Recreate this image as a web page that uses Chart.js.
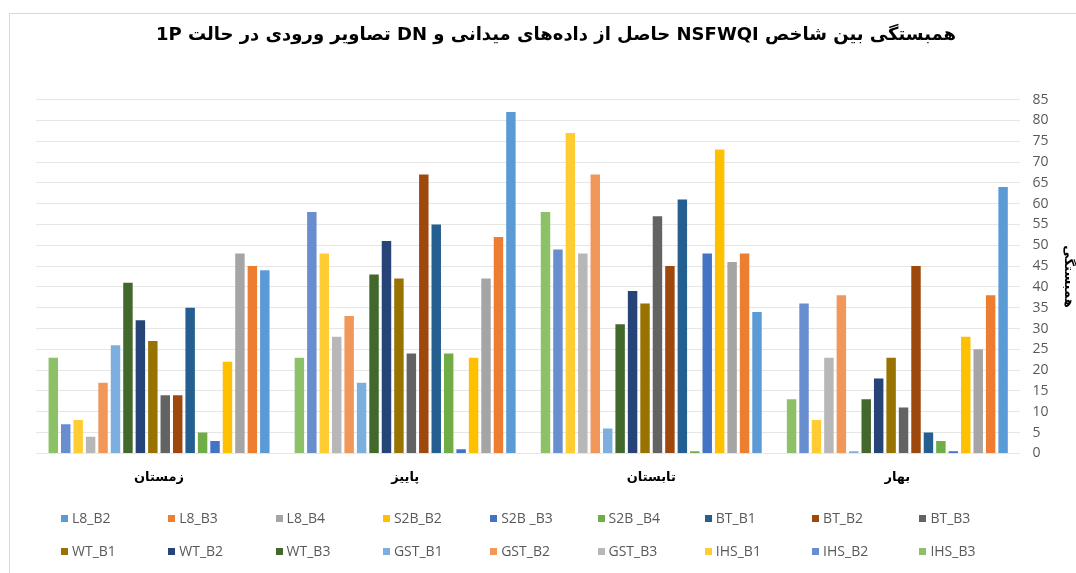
<!DOCTYPE html>
<html>
<head>
  <meta charset="UTF-8">
  <title>NSFWQI correlation chart</title>
  <script src="https://cdn.jsdelivr.net/npm/chart.js"></script>
  <style>
    html, body {
      margin: 0;
      padding: 0;
      background: #fff;
    }
    #wrap {
      position: relative;
      width: 1076px;
      height: 573px;
      overflow: hidden;
    }
    #frame {
      position: absolute;
      left: 9px;
      top: 13px;
      width: 1100px;
      height: 600px;
      border: 1px solid #d9d9d9;
    }
    canvas {
      position: absolute;
      left: 0;
      top: 0;
      direction: rtl;
    }
    .legend-item {
      position: absolute;
      font-family: "Open Sans", sans-serif;
      font-size: 14px;
      color: #595959;
      white-space: nowrap;
      line-height: 16px;
    }
    .legend-item span.box {
      display: inline-block;
      width: 7px;
      height: 7px;
      margin-right: 4px;
      vertical-align: 1px;
    }
  </style>
</head>
<body>
  <div id="wrap">
    <div id="frame"></div>
    <canvas id="chart" width="1076" height="573"></canvas>
    <div id="legend"></div>
  </div>

  <script>
    // Categories (seasons), x axis runs right to left
    const seasons = ["بهار", "تابستان", "پاییز", "زمستان"];

    const seriesNames = ["L8_B2", "L8_B3", "L8_B4", "S2B_B2", "S2B _B3", "S2B _B4", "BT_B1", "BT_B2", "BT_B3",
                         "WT_B1", "WT_B2", "WT_B3", "GST_B1", "GST_B2", "GST_B3", "IHS_B1", "IHS_B2", "IHS_B3"];

    const seriesColors = ["#5B9BD5", "#ED7D31", "#A5A5A5", "#FFC000", "#4472C4", "#70AD47", "#255E91", "#9E480E", "#636363",
                          "#997300", "#264478", "#43682B", "#7CAFDD", "#F1975A", "#B7B7B7", "#FFCD33", "#698ED0", "#8CC168"];

    // values per series: spring, summer, autumn, winter
    const L8_B2 = [64, 34, 82, 44];
    const L8_B3 = [38, 48, 52, 45];
    const L8_B4 = [25, 46, 42, 48];
    const S2B_B2 = [28, 73, 23, 22];
    const S2B_B3 = [0.5, 48, 1, 3];
    const S2B_B4 = [3, 0.5, 24, 5];
    const BT_B1 = [5, 61, 55, 35];
    const BT_B2 = [45, 45, 67, 14];
    const BT_B3 = [11, 57, 24, 14];
    const WT_B1 = [23, 36, 42, 27];
    const WT_B2 = [18, 39, 51, 32];
    const WT_B3 = [13, 31, 43, 41];
    const GST_B1 = [0.5, 6, 17, 26];
    const GST_B2 = [38, 67, 33, 17];
    const GST_B3 = [23, 48, 28, 4];
    const IHS_B1 = [8, 77, 48, 8];
    const IHS_B2 = [36, 49, 58, 7];
    const IHS_B3 = [13, 58, 23, 23];

    const seriesValues = [L8_B2, L8_B3, L8_B4, S2B_B2, S2B_B3, S2B_B4, BT_B1, BT_B2, BT_B3,
                          WT_B1, WT_B2, WT_B3, GST_B1, GST_B2, GST_B3, IHS_B1, IHS_B2, IHS_B3];

    const yTicks = [0, 5, 10, 15, 20, 25, 30, 35, 40, 45, 50, 55, 60, 65, 70, 75, 80, 85];

    const titleText = "همبستگی بین شاخص NSFWQI حاصل از داده‌های میدانی و DN تصاویر ورودی در حالت 1P";
    const yTitle = "همبستگی";

    // the axis is reversed, so the series go in backwards to keep L8_B2 on the right of each group
    const datasets = seriesNames.map((name, i) => ({
      label: name,
      data: seriesValues[i],
      backgroundColor: seriesColors[i],
      categoryPercentage: 0.91,
      barPercentage: 0.76
    })).reverse();

    const chart = new Chart(document.getElementById("chart").getContext("2d"), {
      type: "bar",
      data: {
        labels: seasons,
        datasets: datasets
      },
      options: {
        responsive: false,
        animation: false,
        layout: {
          padding: { left: 36, right: 0, top: 0, bottom: 80 }
        },
        plugins: {
          legend: { display: false },
          tooltip: { enabled: false },
          title: {
            display: true,
            text: titleText,
            color: "#000",
            font: { family: "DejaVu Sans", size: 18, weight: "bold" },
            padding: { top: 25, bottom: 53 }
          }
        },
        scales: {
          x: {
            reverse: true,
            grid: { display: false },
            border: { display: false },
            ticks: {
              color: "#000",
              font: { family: "DejaVu Sans", size: 13, weight: "bold" },
              padding: 8
            }
          },
          y: {
            position: "right",
            min: 0,
            max: 85,
            afterBuildTicks: (axis) => {
              axis.ticks = yTicks.map(v => ({ value: v }));
            },
            grid: { color: "#e6e6e6", drawTicks: false },
            border: { display: false },
            ticks: {
              color: "#595959",
              font: { family: "Open Sans", size: 14 },
              padding: 12
            },
            title: {
              display: true,
              text: yTitle,
              color: "#000",
              font: { family: "DejaVu Sans", size: 13, weight: "bold" },
              padding: { top: 0, bottom: 0 }
            }
          }
        }
      }
    });

    // legend in two rows of nine, as in the original layout
    const legend = document.getElementById("legend");
    seriesNames.forEach((name, i) => {
      const row = Math.floor(i / 9);
      const col = i % 9;
      const item = document.createElement("div");
      item.className = "legend-item";
      item.style.left = (61 + col * 107.3) + "px";
      item.style.top = (510 + row * 33) + "px";
      item.innerHTML = `<span class="box" style="background:${seriesColors[i]}"></span>${name}`;
      legend.appendChild(item);
    });
  </script>
</body>
</html>
